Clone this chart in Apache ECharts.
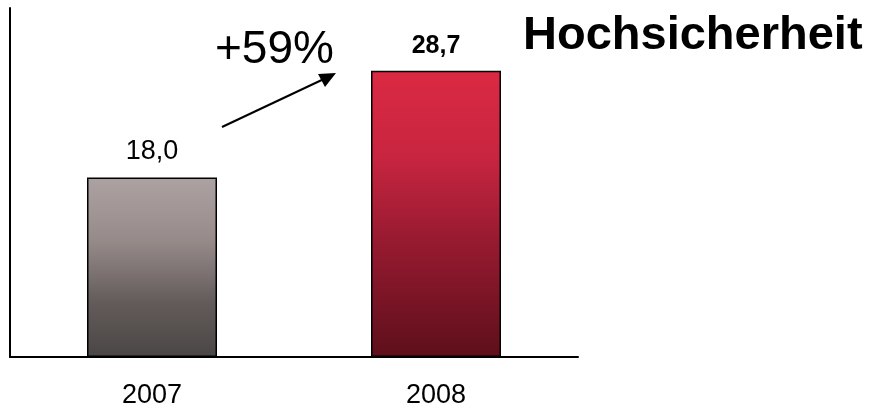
<!DOCTYPE html>
<html>
<head>
<meta charset="utf-8">
<script src="https://cdn.jsdelivr.net/npm/echarts@6/dist/echarts.min.js"></script>
<style>html,body{margin:0;padding:0;background:#fff}#c{width:871px;height:408px}</style>
</head>
<body>
<div id="c"></div>
<script>
const categories = ['2007', '2008'];
const values = [18.0, 28.7];
const valueLabels = ['18,0', '28,7'];
const titleText = 'Hochsicherheit';
const growthText = '+59%';

const FONT = '"Liberation Sans", Arial, sans-serif';
const gradients = [
  new echarts.graphic.LinearGradient(0, 0, 0, 1, [
    {offset: 0, color: '#ada2a2'},
    {offset: 0.35, color: '#978b8a'},
    {offset: 0.7, color: '#625b5a'},
    {offset: 1, color: '#4b4646'}
  ]),
  new echarts.graphic.LinearGradient(0, 0, 0, 1, [
    {offset: 0, color: '#db2943'},
    {offset: 0.3, color: '#c82540'},
    {offset: 0.6, color: '#961a30'},
    {offset: 1, color: '#5e0f1b'}
  ])
];

const chart = echarts.init(document.getElementById('c'), null, {renderer: 'canvas'});
chart.setOption({
  animation: false,
  backgroundColor: '#ffffff',
  title: {
    text: titleText,
    left: 518, top: 8,
    textStyle: {fontFamily: FONT, fontWeight: 'bold', fontSize: 47, color: '#000'}
  },
  grid: {left: 10, right: 293, top: 8, bottom: 51, containLabel: false, outerBoundsMode: 'none'},
  xAxis: {
    type: 'category',
    data: categories,
    axisLine: {show: true, lineStyle: {color: '#000', width: 2}},
    axisTick: {show: false},
    axisLabel: {fontFamily: FONT, fontSize: 27, color: '#000', margin: 25}
  },
  yAxis: {
    type: 'value', min: 0, max: 35,
    axisLine: {show: true, lineStyle: {color: '#000', width: 2}},
    axisTick: {show: false},
    axisLabel: {show: false},
    splitLine: {show: false}
  },
  series: [{
    type: 'bar',
    barWidth: 130,
    data: values.map((v, i) => ({
      value: v,
      itemStyle: {color: gradients[i], borderColor: '#000', borderWidth: 1.5},
      label: {
        show: true, position: 'top', distance: 12,
        formatter: valueLabels[i],
        fontFamily: FONT, color: '#000',
        fontSize: i === 1 ? 25 : 27,
        fontWeight: i === 1 ? 'bold' : 'normal'
      }
    }))
  }],
  graphic: [
    {
      type: 'text', left: 215, top: 27,
      style: {text: growthText, font: '46px ' + FONT, fill: '#000'}
    },
    {
      type: 'line',
      shape: {x1: 222, y1: 127, x2: 326, y2: 78},
      style: {stroke: '#000', lineWidth: 2}
    },
    {
      type: 'polygon',
      shape: {points: [[336, 73], [318, 74], [325, 87]]},
      style: {fill: '#000'}
    }
  ]
});
</script>
</body>
</html>
